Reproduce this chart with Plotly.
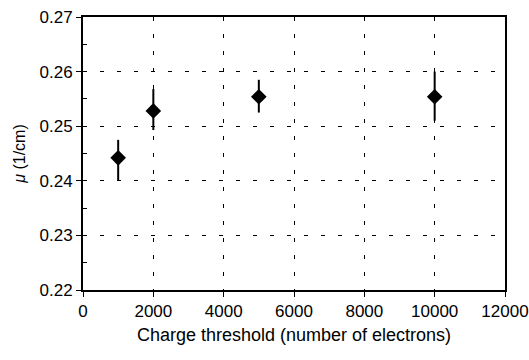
import plotly.graph_objects as go

threshold = [1000, 2000, 5000, 10000]
mu = [0.2442, 0.2528, 0.2554, 0.2554]
err_plus = [0.0033, 0.0040, 0.0031, 0.0046]
err_minus = [0.0041, 0.0035, 0.0029, 0.0044]

x_ticks = [0, 2000, 4000, 6000, 8000, 10000, 12000]
y_ticks = [0.22, 0.23, 0.24, 0.25, 0.26, 0.27]

font_family = "Liberation Sans, Arial, sans-serif"

fig = go.Figure()
fig.add_trace(go.Scatter(
    x=threshold, y=mu, mode="markers",
    marker=dict(symbol="diamond", size=12, color="black"),
    error_y=dict(type="data", symmetric=False, array=err_plus, arrayminus=err_minus,
                 color="black", thickness=2, width=0),
    showlegend=False,
))

fig.update_layout(
    width=529, height=360,
    margin=dict(l=83, r=24, t=17, b=70),
    paper_bgcolor="white", plot_bgcolor="white",
    font=dict(family=font_family, size=17, color="black"),
    xaxis=dict(
        range=[0, 12000], tickvals=x_ticks, ticktext=[str(v) for v in x_ticks],
        showgrid=True, gridcolor="black", gridwidth=1, griddash="4px,13px",
        showline=True, linecolor="black", linewidth=2, mirror=True,
        ticks="outside", ticklen=5, tickcolor="black", tickwidth=1,
        ticklabelstandoff=0, automargin=False,
        zeroline=False,
        title=dict(text="Charge threshold (number of electrons)", standoff=8,
                   font=dict(size=18)),
    ),
    yaxis=dict(
        range=[0.22, 0.27], tickvals=y_ticks, ticktext=[f"{v:.2f}" for v in y_ticks],
        showgrid=True, gridcolor="black", gridwidth=1, griddash="4px,13px",
        showline=True, linecolor="black", linewidth=2, mirror=True,
        ticks="outside", ticklen=5, tickcolor="black", tickwidth=1,
        zeroline=False, automargin=False,
        minor=dict(tickvals=[0.225, 0.235, 0.245, 0.255, 0.265], ticks="inside",
                   ticklen=4, tickcolor="black", showgrid=False),
        title=dict(text="<i>μ</i> (1/cm)", standoff=10, font=dict(size=16)),
    ),
)

fig.write_html("out.html")
